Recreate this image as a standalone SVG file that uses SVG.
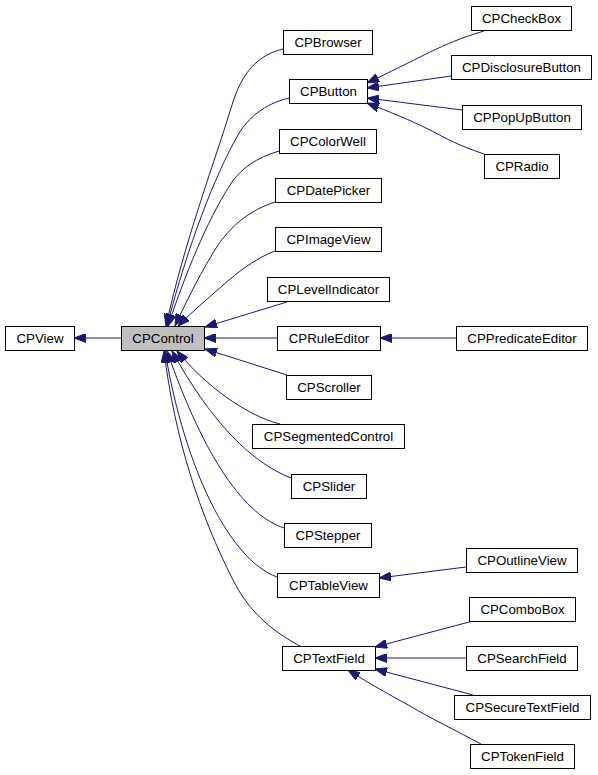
<svg xmlns="http://www.w3.org/2000/svg" width="598" height="775" viewBox="0 0 598 775">
<style>
.n rect{fill:#fff;stroke:#000;stroke-width:1}
.n.sel rect{fill:#bfbfbf}
.n text{font-family:"Liberation Sans",Arial,sans-serif;font-size:13.3px;text-anchor:middle;fill:#000}
.e path{fill:none;stroke:#191970;stroke-width:1;marker-end:url(#ah)}
</style>
<defs>
<marker id="ah" viewBox="0 0 12 9" refX="12" refY="4.5" markerWidth="12" markerHeight="9" markerUnits="userSpaceOnUse" orient="auto">
<path d="M0,0 L12,4.5 L0,9 z" fill="#191970" stroke="#191970"/>
</marker>
</defs>
<rect width="598" height="775" fill="#fff"/>
<g id="edges" class="e">
<path d="M121,338 L74,338"/>
<path d="M283,49 C258,55 242,72 232,105 C212,170 185,240 166,326"/>
<path d="M289,98 C264,104 248,118 238,135 C215,175 188,245 167,326"/>
<path d="M279,151 C256,158 242,168 232,182 C212,212 190,260 168,326"/>
<path d="M275,202 C250,210 232,225 218,245 C202,270 188,298 175,326"/>
<path d="M275,251 C256,258 238,272 222,286 C206,300 192,312 178,326"/>
<path d="M287,302 L205,327"/>
<path d="M277,338 L204,338"/>
<path d="M287,375 L205,349"/>
<path d="M280,424 C245,415 205,385 177,351"/>
<path d="M291,478 C250,462 210,420 172,351"/>
<path d="M284,528 C245,515 205,460 167,351"/>
<path d="M277,577 C230,560 185,470 165,351"/>
<path d="M300,646 C270,630 248,610 233,580 C200,515 175,440 164,351"/>
<path d="M484,31 C460,38 445,45 430,52 C410,62 390,72 367,83"/>
<path d="M451,76 L367,88"/>
<path d="M462,110 L367,98"/>
<path d="M484,154 C460,146 445,138 430,130 C410,120 390,112 367,103"/>
<path d="M456,338 L380,338"/>
<path d="M466,567 L379,578"/>
<path d="M473,621 L375,647"/>
<path d="M466,658 L375,658"/>
<path d="M473,695 L375,669"/>
<path d="M481,744 C455,730 430,718 410,706 C390,695 370,684 348,670"/>
</g>
<g id="CPView" class="n"><rect x="5.5" y="326.5" width="69" height="24"/><text x="40" y="343">CPView</text></g>
<g id="CPControl" class="n sel"><rect x="121.5" y="326.5" width="83" height="24"/><text x="163" y="343">CPControl</text></g>
<g id="CPBrowser" class="n"><rect x="283.5" y="30.5" width="89" height="24"/><text x="328" y="47">CPBrowser</text></g>
<g id="CPButton" class="n"><rect x="289.5" y="79.5" width="78" height="24"/><text x="328.5" y="96">CPButton</text></g>
<g id="CPColorWell" class="n"><rect x="279.5" y="129.5" width="97" height="24"/><text x="328" y="146">CPColorWell</text></g>
<g id="CPDatePicker" class="n"><rect x="275.5" y="178.5" width="106" height="24"/><text x="328.5" y="195">CPDatePicker</text></g>
<g id="CPImageView" class="n"><rect x="275.5" y="227.5" width="106" height="24"/><text x="328.5" y="244">CPImageView</text></g>
<g id="CPLevelIndicator" class="n"><rect x="267.5" y="277.5" width="122" height="24"/><text x="328.5" y="294">CPLevelIndicator</text></g>
<g id="CPRuleEditor" class="n"><rect x="277.5" y="326.5" width="103" height="24"/><text x="329" y="343">CPRuleEditor</text></g>
<g id="CPScroller" class="n"><rect x="286.5" y="375.5" width="85" height="24"/><text x="329" y="392">CPScroller</text></g>
<g id="CPSegmentedControl" class="n"><rect x="252.5" y="424.5" width="152" height="24"/><text x="328.5" y="441">CPSegmentedControl</text></g>
<g id="CPSlider" class="n"><rect x="291.5" y="474.5" width="75" height="24"/><text x="329" y="491">CPSlider</text></g>
<g id="CPStepper" class="n"><rect x="284.5" y="523.5" width="87" height="24"/><text x="328" y="540">CPStepper</text></g>
<g id="CPTableView" class="n"><rect x="277.5" y="573.5" width="102" height="24"/><text x="328.5" y="590">CPTableView</text></g>
<g id="CPTextField" class="n"><rect x="282.5" y="646.5" width="93" height="24"/><text x="329" y="663">CPTextField</text></g>
<g id="CPCheckBox" class="n"><rect x="471.5" y="6.5" width="100" height="24"/><text x="521.5" y="23">CPCheckBox</text></g>
<g id="CPDisclosureButton" class="n"><rect x="451.5" y="55.5" width="140" height="24"/><text x="521.5" y="72">CPDisclosureButton</text></g>
<g id="CPPopUpButton" class="n"><rect x="462.5" y="105.5" width="119" height="24"/><text x="522" y="122">CPPopUpButton</text></g>
<g id="CPRadio" class="n"><rect x="484.5" y="154.5" width="75" height="24"/><text x="522" y="171">CPRadio</text></g>
<g id="CPPredicateEditor" class="n"><rect x="456.5" y="326.5" width="131" height="24"/><text x="522" y="343">CPPredicateEditor</text></g>
<g id="CPOutlineView" class="n"><rect x="466.5" y="548.5" width="111" height="24"/><text x="522" y="565">CPOutlineView</text></g>
<g id="CPComboBox" class="n"><rect x="469.5" y="597.5" width="106" height="24"/><text x="522.5" y="614">CPComboBox</text></g>
<g id="CPSearchField" class="n"><rect x="466.5" y="646.5" width="111" height="24"/><text x="522" y="663">CPSearchField</text></g>
<g id="CPSecureTextField" class="n"><rect x="454.5" y="695.5" width="136" height="24"/><text x="522.5" y="712">CPSecureTextField</text></g>
<g id="CPTokenField" class="n"><rect x="470.5" y="744.5" width="104" height="24"/><text x="522.5" y="761">CPTokenField</text></g>
</svg>
